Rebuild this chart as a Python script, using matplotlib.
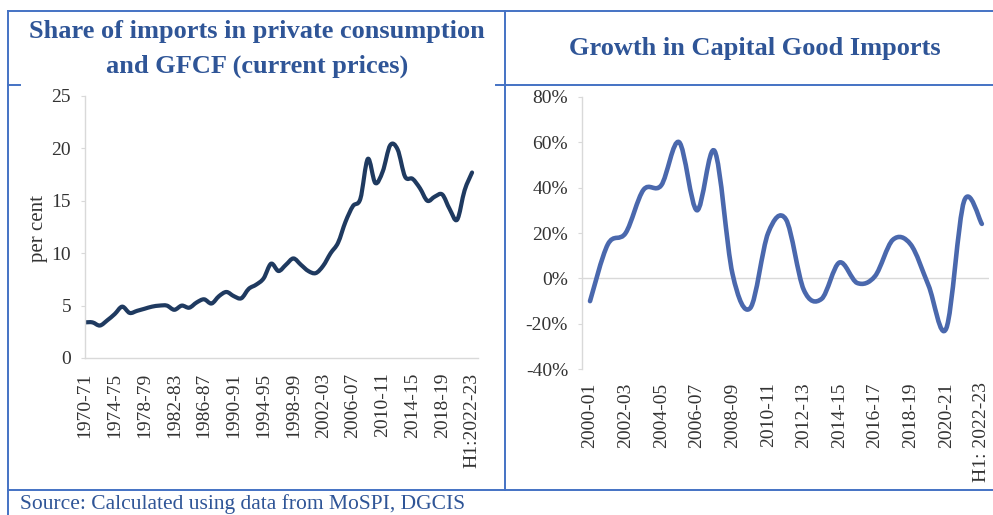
import matplotlib
matplotlib.use("Agg")
import matplotlib.pyplot as plt
from matplotlib.path import Path
from matplotlib.patches import PathPatch
from matplotlib.lines import Line2D
import numpy as np

# ---------------- data ----------------
left_years = [f"{1970 + i}-{(71 + i) % 100:02d}" for i in range(52)] + ["H1:2022-23"]
left_values = [3.4, 3.4, 3.1, 3.6, 4.2, 4.9, 4.3, 4.5, 4.7, 4.9,
               5.0, 5.0, 4.6, 5.0, 4.8, 5.3, 5.6, 5.2, 5.9, 6.3,
               5.9, 5.7, 6.6, 7.0, 7.6, 9.0, 8.3, 8.9, 9.5, 8.9,
               8.3, 8.1, 8.8, 10.0, 11.0, 13.0, 14.5, 15.2, 19.0, 16.7,
               17.8, 20.3, 19.9, 17.3, 17.1, 16.2, 15.0, 15.4, 15.6, 14.2,
               13.2, 16.0, 17.7]
left_tick_every = 4

right_years = [f"{2000 + i}-{(1 + i) % 100:02d}" for i in range(22)] + ["H1: 2022-23"]
right_values = [-10, 15, 20, 39, 41, 60, 30, 56, 2, -13,
                20, 26, -5, -9, 7, -2, 1, 17, 15, -3,
                -22, 34, 24]
right_tick_every = 2

left_title = "Share of imports in private consumption\nand GFCF (current prices)"
right_title = "Growth in Capital Good Imports"
left_ylabel = "per cent"
source_text = "Source: Calculated using data from MoSPI, DGCIS"

# ---------------- style ----------------
W, H = 993, 515
FRAME = "#4472C4"
TITLE_C = "#2F5597"
LEFT_LINE = "#1F3A60"
RIGHT_LINE = "#4A68AD"
TXT = "#333333"
AXC = "#D9D9D9"
SERIF = "Liberation Serif"


def px(x, y):
    return x / W, 1 - y / H


def smooth_path(xs, ys):
    pts = np.column_stack([xs, ys]).astype(float)
    n = len(pts)
    verts = [pts[0]]
    codes = [Path.MOVETO]
    for i in range(n - 1):
        p0 = pts[i - 1] if i > 0 else pts[i]
        p1 = pts[i]
        p2 = pts[i + 1]
        p3 = pts[i + 2] if i + 2 < n else pts[i + 1]
        c1 = p1 + (p2 - p0) / 6.0
        c2 = p2 - (p3 - p1) / 6.0
        verts += [c1, c2, p2]
        codes += [Path.CURVE4] * 3
    return Path(verts, codes)


fig = plt.figure(figsize=(W / 100, H / 100), dpi=100)
fig.patch.set_facecolor("white")

# ---------------- left chart ----------------
axL = fig.add_axes([85 / W, (H - 358) / H, 393 / W, 262 / H])
xL = np.arange(len(left_values))
axL.set_xlim(0, 52.8)
axL.set_ylim(0, 25)
axL.add_patch(PathPatch(smooth_path(xL, left_values), fill=False,
                        edgecolor=LEFT_LINE, lw=3.0, capstyle="round",
                        joinstyle="round"))
axL.plot(xL, left_values, alpha=0)
for s in ["top", "right"]:
    axL.spines[s].set_visible(False)
for s in ["left", "bottom"]:
    axL.spines[s].set_color(AXC)
    axL.spines[s].set_linewidth(1.0)
axL.set_yticks([0, 5, 10, 15, 20, 25])
axL.set_xticks(xL[::left_tick_every])
axL.set_xticklabels(left_years[::left_tick_every], rotation=90)
axL.tick_params(axis="x", length=0, pad=10.5, labelsize=14, labelcolor=TXT)
axL.tick_params(axis="y", length=3, color=AXC, pad=7, labelsize=14, labelcolor=TXT)
for lab in axL.get_xticklabels() + axL.get_yticklabels():
    lab.set_fontfamily(SERIF)
fig.text(*px(38, 228), left_ylabel, rotation=90, ha="center", va="center",
         fontsize=15, family=SERIF, color=TXT)

# ---------------- right chart ----------------
axR = fig.add_axes([582 / W, (H - 369.3) / H, 407 / W, 272.6 / H])
xR = np.arange(len(right_values))
axR.set_xlim(-0.45, 22.4)
axR.set_ylim(-40, 80)
axR.axhline(0, color=AXC, lw=1.0, zorder=1)
axR.add_patch(PathPatch(smooth_path(xR, right_values), fill=False,
                        edgecolor=RIGHT_LINE, lw=3.3, capstyle="round",
                        joinstyle="round", zorder=3))
axR.plot(xR, right_values, alpha=0)
for s in ["top", "right", "bottom"]:
    axR.spines[s].set_visible(False)
axR.spines["left"].set_color(AXC)
axR.spines["left"].set_linewidth(1.0)
axR.set_yticks([-40, -20, 0, 20, 40, 60, 80])
axR.set_yticklabels([f"{v}%" for v in [-40, -20, 0, 20, 40, 60, 80]])
axR.set_xticks(xR[::right_tick_every])
axR.set_xticklabels(right_years[::right_tick_every], rotation=90)
axR.tick_params(axis="x", length=0, pad=9.5, labelsize=14, labelcolor=TXT)
axR.tick_params(axis="y", length=3, color=AXC, pad=7, labelsize=14, labelcolor=TXT)
for lab in axR.get_xticklabels() + axR.get_yticklabels():
    lab.set_fontfamily(SERIF)

# ---------------- titles & source ----------------
fig.text(*px(257, 38), left_title.split("\n")[0], ha="center", va="baseline",
         fontsize=19, fontweight="bold", family=SERIF, color=TITLE_C)
fig.text(*px(257, 73), left_title.split("\n")[1], ha="center", va="baseline",
         fontsize=19, fontweight="bold", family=SERIF, color=TITLE_C)
fig.text(*px(755, 55), right_title, ha="center", va="baseline",
         fontsize=19, fontweight="bold", family=SERIF, color=TITLE_C)
fig.text(*px(20, 509), source_text, ha="left", va="baseline",
         fontsize=15.5, family=SERIF, color=TITLE_C)

# ---------------- frame ----------------
segments = [((8, 11), (993, 11)),
            ((8, 11), (8, 515)),
            ((505, 11), (505, 490)),
            ((496, 85), (993, 85)),
            ((8, 85), (20, 85)),
            ((8, 490), (993, 490))]
for (x0, y0), (x1, y1) in segments:
    a = px(x0, y0)
    b = px(x1, y1)
    fig.add_artist(Line2D([a[0], b[0]], [a[1], b[1]], color=FRAME, lw=1.4,
                          transform=fig.transFigure))

fig.savefig("out.png", dpi=100, facecolor="white")
